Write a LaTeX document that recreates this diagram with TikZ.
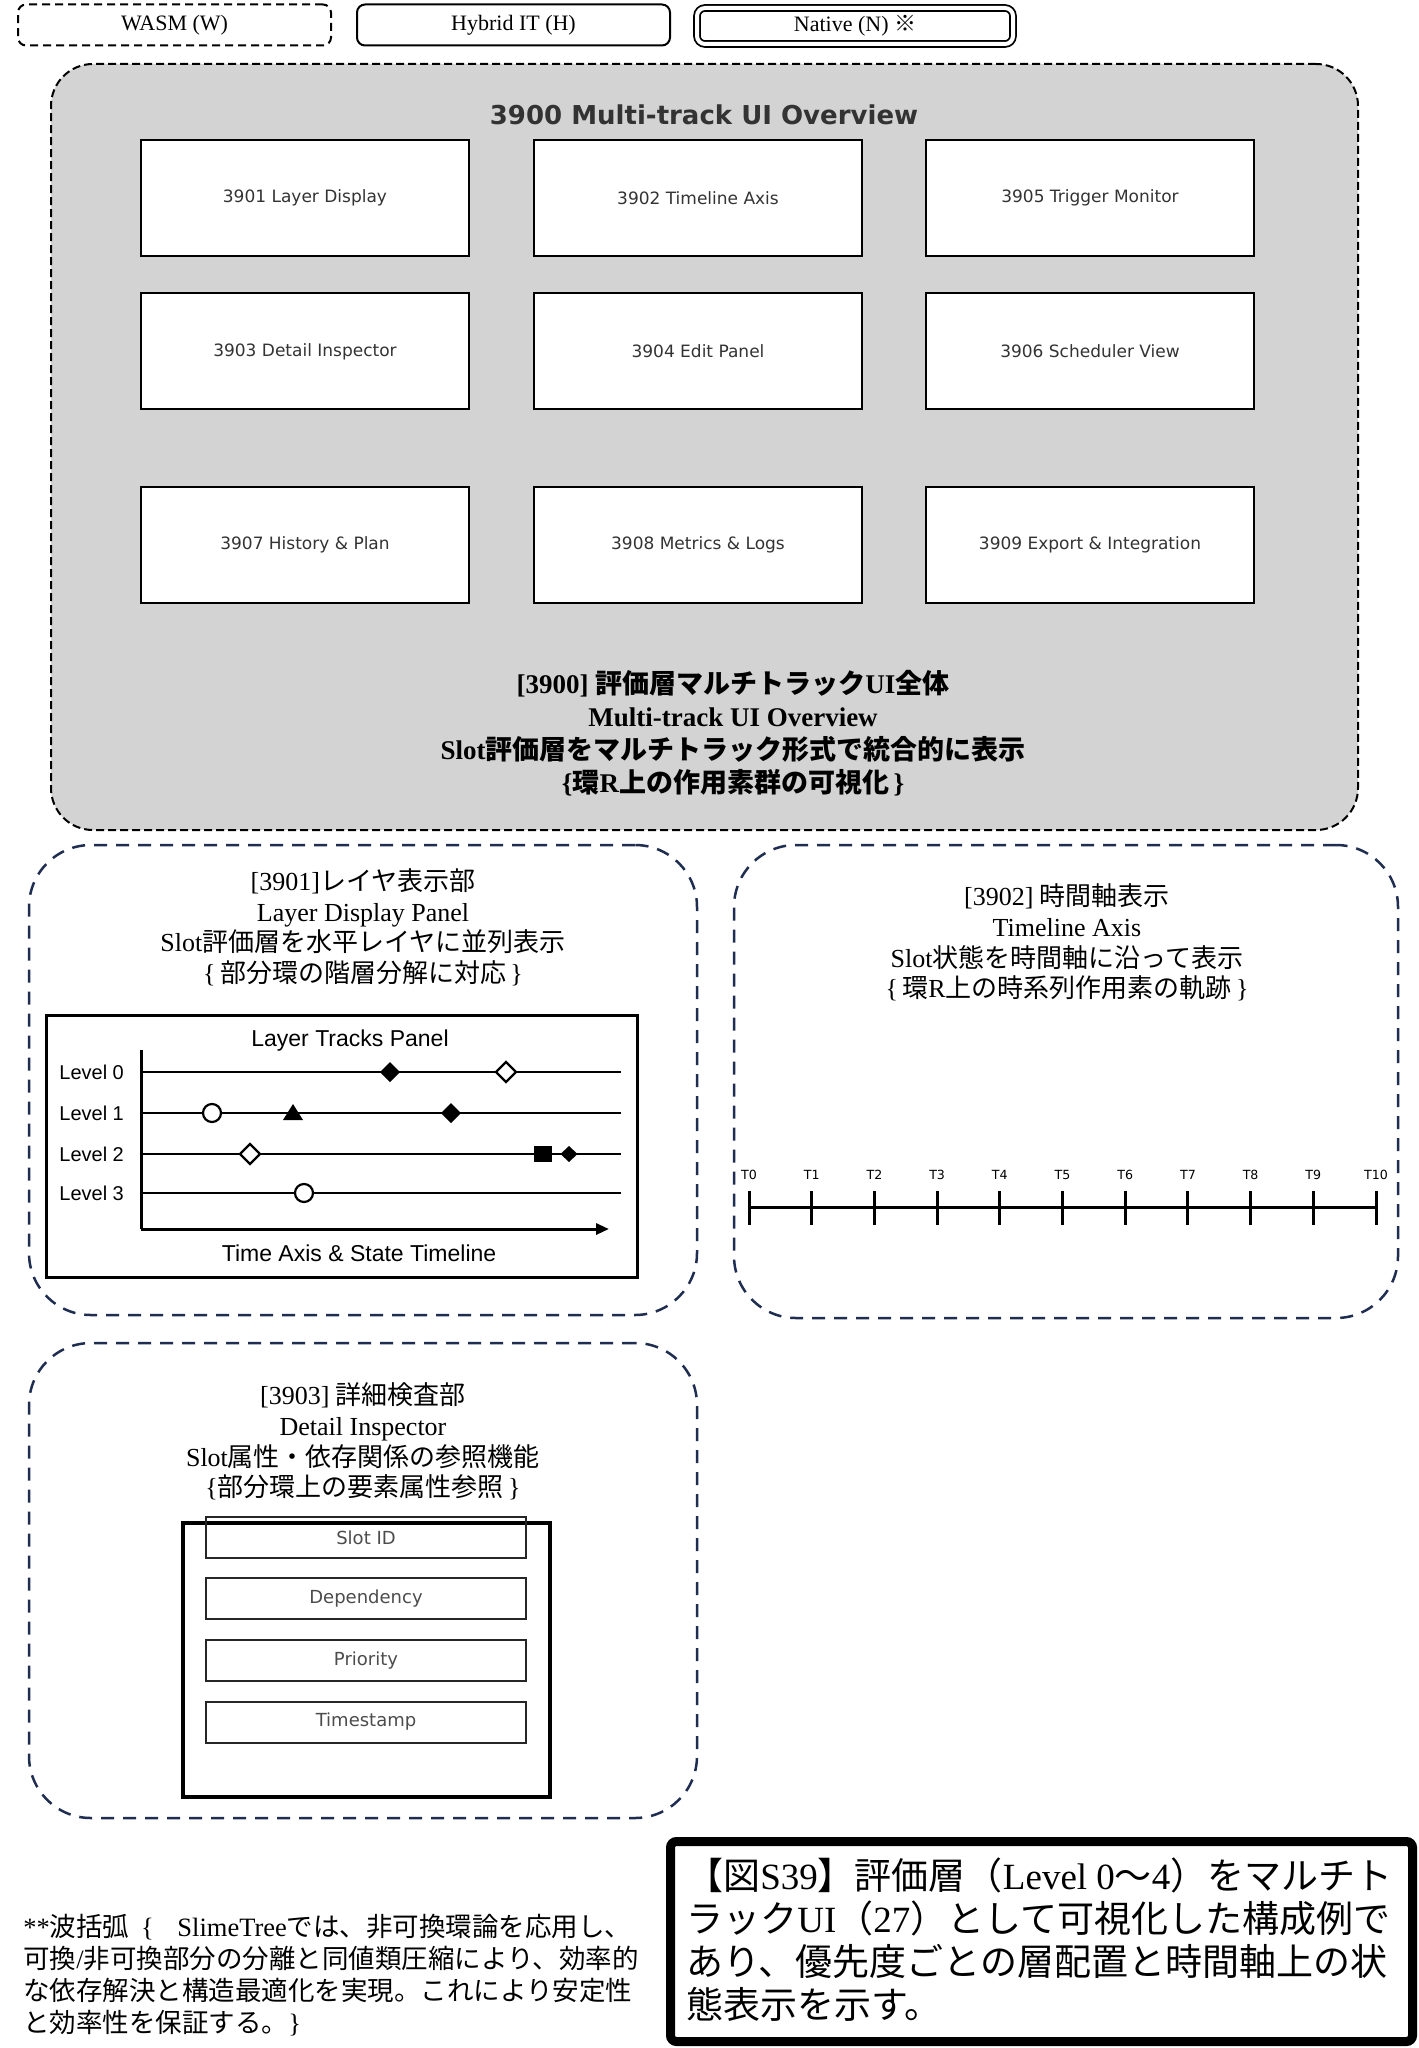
\documentclass[tikz,border=0pt]{standalone}
\usepackage{fontspec}
\setmainfont{Liberation Serif}
\newfontfamily\jp{Noto Sans CJK JP}
\newfontfamily\dv{DejaVu Sans}
\newfontfamily\ls{Liberation Sans}
\usetikzlibrary{arrows.meta}
% automatic switch to the CJK font for CJK characters
\makeatletter
\newXeTeXintercharclass\cjkcls
\count@="3000
\loop
  \XeTeXcharclass\count@=\cjkcls
  \advance\count@ by 1
\ifnum\count@<"A000 \repeat
\count@="FF00
\loop
  \XeTeXcharclass\count@=\cjkcls
  \advance\count@ by 1
\ifnum\count@<"FFF0 \repeat
\XeTeXcharclass"203B=\cjkcls
\makeatother
\XeTeXinterchartoks 0 \cjkcls = {\begingroup\jp}
\XeTeXinterchartoks 4095 \cjkcls = {\begingroup\jp}
\XeTeXinterchartoks \cjkcls 0 = {\endgroup}
\XeTeXinterchartoks \cjkcls 4095 = {\endgroup}
\XeTeXinterchartokenstate=1
\definecolor{boxgray}{RGB}{211,211,211}
\definecolor{navy}{RGB}{30,45,80}
\definecolor{txtgray}{RGB}{51,51,51}
\tikzset{
  legbox/.style={draw=black, line width=1pt, rounded corners=4pt, minimum width=156.5pt, minimum height=20.5pt, inner sep=0pt, font=\fontsize{11pt}{13pt}\selectfont},
  ovbox/.style={draw=black, line width=1pt, fill=white, minimum width=164pt, minimum height=58pt, inner sep=0pt, text=txtgray, font=\dv\fontsize{8.5pt}{10pt}\selectfont},
  panel/.style={draw=navy, line width=1.25pt, dash pattern=on 6.5pt off 4.5pt, rounded corners=31pt, inner sep=0pt},
  paneltext/.style={align=center, inner sep=0pt, font=\fontsize{13pt}{15.3pt}\selectfont},
  fieldbox/.style={draw=black!85, line width=1pt, minimum width=160pt, minimum height=20.5pt, inner sep=0pt, text=black!70, font=\dv\fontsize{9pt}{10pt}\selectfont},
  tickl/.style={font=\dv\fontsize{6.3pt}{7pt}\selectfont, inner sep=0pt},
  lvl/.style={font=\ls\fontsize{10pt}{12pt}\selectfont, anchor=west, inner sep=0pt},
  plotlabel/.style={font=\ls\fontsize{11.5pt}{13pt}\selectfont, inner sep=0pt},
  track/.style={line width=1.25pt},
  openmk/.style={draw=black, fill=white, line width=1.1pt},
  fillmk/.style={fill=black},
}
\begin{document}
\begin{tikzpicture}[x=0.5pt,y=-0.5pt]
\path[use as bounding box, fill=white] (0,0) rectangle (1418,2048);

% legend
\node[legbox, dash pattern=on 4pt off 2.5pt] (wasm) at (174.5,25) {WASM (W)};
\node[legbox] (hyb) at (513.5,25) {Hybrid IT (H)};
\node[legbox, double=white, double distance=2pt, line width=0.9pt, minimum width=158pt, minimum height=18pt] (nat) at (855,26) {Native (N) ※};

% overview container
\node[draw=black, fill=boxgray, line width=1pt, dash pattern=on 4pt off 2pt, rounded corners=21pt, minimum width=653.5pt, minimum height=383pt, inner sep=0pt] (ov) at (704.5,447) {};
\node[font=\dv\bfseries\fontsize{13pt}{15pt}\selectfont, text=txtgray, inner sep=0pt] (ovtitle) at (704,115) {3900 Multi-track UI Overview};

\node[ovbox] (b3901) at (305,198) {3901 Layer Display};
\node[ovbox] (b3902) at (698,198) {3902 Timeline Axis};
\node[ovbox] (b3905) at (1090,198) {3905 Trigger Monitor};
\node[ovbox] (b3903) at (305,351.5) {3903 Detail Inspector};
\node[ovbox] (b3904) at (698,351.5) {3904 Edit Panel};
\node[ovbox] (b3906) at (1090,351.5) {3906 Scheduler View};
\node[ovbox] (b3907) at (305,544.5) {3907 History \& Plan};
\node[ovbox] (b3908) at (698,544.5) {3908 Metrics \& Logs};
\node[ovbox] (b3909) at (1090,544.5) {3909 Export \& Integration};

\node[align=center, inner sep=0pt, font=\bfseries\fontsize{13.5pt}{16.5pt}\selectfont] (ovtext) at (733,733.5)
 {[3900] 評価層マルチトラックUI全体\\
  Multi-track UI Overview\\
  Slot評価層をマルチトラック形式で統合的に表示\\
  \{環R上の作用素群の可視化\,\}};

% panel 3901
\node[panel, minimum width=334pt, minimum height=235pt] (p3901) at (363,1080) {};
\node[paneltext] (t3901) at (363,927.5)
 {[3901]レイヤ表示部\\
  Layer Display Panel\\
  Slot評価層を水平レイヤに並列表示\\
  \{\,部分環の階層分解に対応\,\}};
\node[draw=black, line width=1.5pt, minimum width=295.5pt, minimum height=131pt, inner sep=0pt] (ltp) at (341.5,1146) {};
\node[plotlabel] (ltptitle) at (350,1041) {Layer Tracks Panel};
\node[plotlabel] (ltpaxis) at (359,1253) {Time Axis \& State Timeline};
\draw[line width=1.5pt] (141,1050) -- (141,1229);
\draw[line width=1.5pt, -{Triangle[length=6.5pt,width=5.5pt]}] (141,1229) -- (609,1229);
\foreach \yy/\lab in {1072/0, 1113/1, 1154/2, 1193/3}{
  \draw[track] (141,\yy) -- (621,\yy);
  \node[lvl] (lv\lab) at (59,\yy) {Level \lab};
}
% markers level 0
\fill[fillmk] (390,1062) -- (400,1072) -- (390,1082) -- (380,1072) -- cycle;
\draw[openmk] (506,1062) -- (516,1072) -- (506,1082) -- (496,1072) -- cycle;
% level 1
\draw[openmk] (212,1113) circle[radius=4.5pt];
\fill[fillmk] (293,1104) -- (303,1120) -- (283,1120) -- cycle;
\fill[fillmk] (451,1103) -- (461,1113) -- (451,1123) -- (441,1113) -- cycle;
% level 2
\draw[openmk] (250,1144) -- (260,1154) -- (250,1164) -- (240,1154) -- cycle;
\fill[fillmk] (534,1146) rectangle (552,1162);
\fill[fillmk] (569,1146) -- (577.5,1154) -- (569,1162) -- (560.5,1154) -- cycle;
% level 3
\draw[openmk] (304,1193) circle[radius=4.5pt];

% panel 3902
\node[panel, minimum width=332pt, minimum height=236.5pt] (p3902) at (1066,1081.5) {};
\node[paneltext] (t3902) at (1067,942.5)
 {[3902] 時間軸表示\\
  Timeline Axis\\
  Slot状態を時間軸に沿って表示\\
  \{\,環R上の時系列作用素の軌跡\,\}};
\draw[line width=1.5pt] (749,1207) -- (1376,1207);
\foreach \i in {0,...,10}{
  \draw[line width=1.5pt] ({749+62.7*\i},1191) -- ({749+62.7*\i},1225);
  \node[tickl] (tk\i) at ({749+62.7*\i},1175) {T\i};
}

% panel 3903
\node[panel, minimum width=334pt, minimum height=237.5pt] (p3903) at (363,1580.5) {};
\node[paneltext] (t3903) at (363,1441.5)
 {[3903] 詳細検査部\\
  Detail Inspector\\
  Slot属性・依存関係の参照機能\\
  \{部分環上の要素属性参照\,\}};
\node[draw=black, line width=2pt, minimum width=183.5pt, minimum height=137pt, inner sep=0pt] (insp) at (366.5,1660) {};
\node[fieldbox] (fslot) at (366,1537.5) {Slot ID};
\node[fieldbox] (fdep) at (366,1598.5) {Dependency};
\node[fieldbox] (fpri) at (366,1660.5) {Priority};
\node[fieldbox] (fts) at (366,1722) {Timestamp};

% footnote
\node[anchor=west, align=left, text width=304pt, inner sep=0pt, font=\fontsize{13.25pt}{16pt}\selectfont] (note) at (23,1975.5)
 {**波括弧\hfill\{\hfill\hfill SlimeTreeでは、非可換環論を応用し、\\
  可換/非可換部分の分離と同値類圧縮により、効率的\\
  な依存解決と構造最適化を実現。これにより安定性\\
  と効率性を保証する。\}};

% caption
\node[draw=black, line width=4.5pt, rounded corners=3pt, minimum width=371pt, minimum height=100pt, inner sep=0pt] (capbox) at (1041.5,1941.5) {};
\node[anchor=west, align=left, inner sep=0pt, font=\fontsize{18.5pt}{21.5pt}\selectfont] (cap) at (686,1939.5)
 {【図S39】評価層（Level 0～4）をマルチト\\
  ラックUI（27）として可視化した構成例で\\
  あり、優先度ごとの層配置と時間軸上の状\\
  態表示を示す。};
\end{tikzpicture}
\end{document}
